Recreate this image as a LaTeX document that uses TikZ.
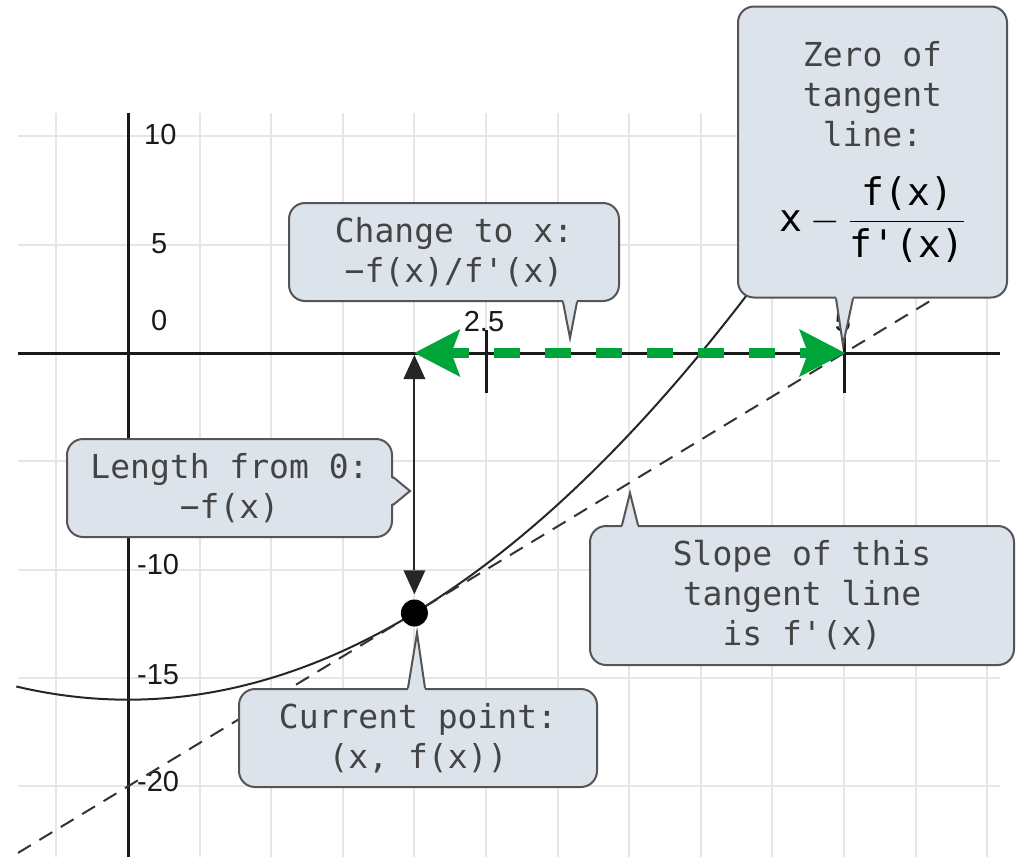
\RequirePackage{fix-cm}
\documentclass[tikz,border=0pt]{standalone}
\usepackage{fontspec}
\setmonofont{DejaVu Sans Mono}
\newfontfamily\axfontfam{Liberation Sans}
\usetikzlibrary{arrows.meta,calc}
\definecolor{cfill}{HTML}{DCE3EA}
\definecolor{cborder}{HTML}{555555}
\definecolor{ctext}{HTML}{444444}
\definecolor{ngreen}{HTML}{00A53A}
\definecolor{gridc}{HTML}{E6E6E6}
\newcommand\calfont{\ttfamily\fontsize{33}{40}\selectfont}
\newcommand\axfont{\axfontfam\fontsize{29}{32}\selectfont}
\begin{document}
\begin{tikzpicture}[x=1pt,y=-1pt,
  callout/.style={draw=cborder, fill=cfill, line width=2pt, rounded corners=16pt,
    inner sep=0pt, align=center, text=ctext, font=\calfont},
  ptrfill/.style={fill=cfill},
  ptrline/.style={draw=cborder, line width=2pt, line join=miter},
  gridline/.style={draw=gridc, line width=2pt},
  axisline/.style={draw=black!90, line width=3pt},
  curveline/.style={draw=black!85, line width=2pt},
  tangentline/.style={draw=black!80, line width=2pt, dash pattern=on 15pt off 10pt},
  axlabel/.style={font=\axfont, text=black!90, inner sep=0pt},
  blackarrow/.style={draw=black!85, line width=2pt,
    {Triangle[length=24pt,width=22pt,line width=0pt]}-{Triangle[length=24pt,width=22pt,line width=0pt]}},
  greenarrow/.style={draw=ngreen, line width=10pt, dash pattern=on 26pt off 25pt, dash phase=8pt,
    {Stealth[length=46pt,width=48pt,inset=9pt,line width=0pt]}-{Stealth[length=46pt,width=48pt,inset=9pt,line width=0pt]}},
]
\useasboundingbox (0,0) rectangle (1017,857);
% grid
\foreach \k in {-1,...,12} \draw[gridline] ({128+71.6*\k},113) -- ({128+71.6*\k},857);
\foreach \k in {-2,...,4} \draw[gridline] (18,{353+108.333*\k}) -- (1000,{353+108.333*\k});
% axes and ticks
\draw[axisline] (18,353) -- (1000,353);
\draw[axisline] (128,113) -- (128,857);
\draw[axisline] (486,330) -- (486,393);
\draw[axisline] (844,330) -- (844,393);
% axis labels
\node[axlabel, anchor=west] (l10) at (144,135) {10};
\node[axlabel, anchor=west] (l5) at (151,244) {5};
\node[axlabel, anchor=west] (l0) at (151,321) {0};
\node[axlabel, anchor=west] (lm10) at (137,565) {-10};
\node[axlabel, anchor=west] (lm15) at (137,675) {-15};
\node[axlabel, anchor=west] (lm20) at (137,782) {-20};
\node[axlabel] (l25) at (484,322) {2.5};
\node[axlabel] (l5x) at (843,322) {5};
% curve and tangent
\draw[curveline] plot[domain=-0.78:4.6, samples=120, smooth] ({128+143.2*\x},{353-21.667*(\x*\x-16)});
\coordinate (t1) at (18,852.9);
\coordinate (t2) at (973,275);
\draw[tangentline] (t1) -- (t2);
% points
\node[circle, fill=black, minimum size=27pt, inner sep=0pt] (dot) at (414.4,613) {};
\coordinate (axpt) at (414.4,353);
\coordinate (zeropt) at (845,353);
\draw[blackarrow] ([yshift=-2pt]axpt) -- ([yshift=5pt]dot.north);
\draw[greenarrow] (axpt) -- (zeropt);
% callouts
\node[callout, minimum width=330pt, minimum height=98pt] (change) at (454,252)
  {Change to x:\\−f(x)/f\char"27(x)};
\coordinate (changetip) at (570,338);
\fill[ptrfill] ([xshift=109pt,yshift=3pt]change.south) -- (changetip) -- ([xshift=123pt,yshift=3pt]change.south) -- cycle;
\draw[ptrline] ([xshift=109pt]change.south) -- (changetip) -- ([xshift=123pt]change.south);

\node[callout, minimum width=269pt, minimum height=291pt] (zero) at (872.5,152)
  {Zero of\\tangent\\line:\\[28pt]{\color{black}\fontsize{38}{44}\selectfont $\hbox{x}-{\displaystyle\frac{\hbox{f(x)}}{\hbox{f\char"27(x)}}}$}};
\coordinate (zerotip) at (843,345);
\fill[ptrfill] ([xshift=-36.5pt,yshift=3pt]zero.south) -- (zerotip) -- ([xshift=-19.5pt,yshift=3pt]zero.south) -- cycle;
\draw[ptrline] ([xshift=-36.5pt]zero.south) -- (zerotip) -- ([xshift=-19.5pt]zero.south);

\node[callout, minimum width=325pt, minimum height=98pt] (length) at (229.5,488)
  {Length from 0:\\−f(x)};
\coordinate (lengthtip) at (410,491);
\fill[ptrfill] ([yshift=11pt,xshift=-3pt]length.east) -- (lengthtip) -- ([yshift=-17pt,xshift=-3pt]length.east) -- cycle;
\draw[ptrline] ([yshift=11pt]length.east) -- (lengthtip) -- ([yshift=-17pt]length.east);

\node[callout, minimum width=358pt, minimum height=98pt] (current) at (418,738)
  {Current point:\\(x, f(x))};
\coordinate (currenttip) at (417,633);
\fill[ptrfill] ([xshift=-10pt,yshift=-3pt]current.north) -- (currenttip) -- ([xshift=7pt,yshift=-3pt]current.north) -- cycle;
\draw[ptrline] ([xshift=-10pt]current.north) -- (currenttip) -- ([xshift=7pt]current.north);

\node[callout, minimum width=424pt, minimum height=139pt] (slope) at (802,595.5)
  {Slope of this\\tangent line\\is f\char"27(x)};
\coordinate (slopetip) at (630,493);
\fill[ptrfill] ([xshift=-180pt,yshift=-3pt]slope.north) -- (slopetip) -- ([xshift=-164pt,yshift=-3pt]slope.north) -- cycle;
\draw[ptrline] ([xshift=-180pt]slope.north) -- (slopetip) -- ([xshift=-164pt]slope.north);
\end{tikzpicture}
\end{document}
